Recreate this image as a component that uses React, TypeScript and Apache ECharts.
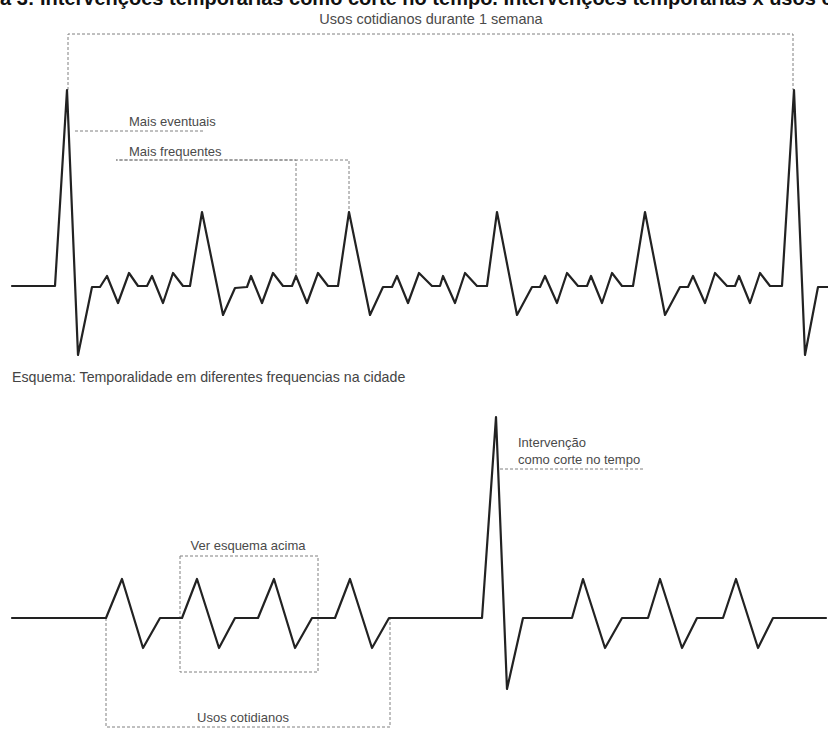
import React, { useEffect, useRef } from "react";
import * as echarts from "echarts";

// Top wave: [time, amplitude] (amplitude 0 = baseline)
const topWave: [number, number][] = [
  [12, 0], [55, 0], [67, 196], [78, -69], [92, -1], [100, -1], [107, 10], [118, -17], [129, 13], [138, 0],
  [147, 0], [152, 10], [163, -17], [173, 13], [183, 0], [190, 0], [202, 74], [223, -29], [235, -2], [247, -1],
  [251, 10], [262, -17], [273, 13], [283, 0], [292, 0], [296, 10], [307, -17], [318, 13], [328, 0], [338, 0],
  [349, 74], [370, -29], [383, -1], [392, -1], [397, 10], [408, -17], [419, 13], [432, 0], [440, 0], [443, 10],
  [455, -17], [465, 13], [477, 0], [487, 0], [497, 74], [517, -29], [532, -1], [540, -1], [545, 10], [557, -17],
  [567, 13], [578, 0], [587, 0], [591, 10], [602, -17], [612, 13], [622, 0], [633, 0], [645, 74], [665, -29],
  [680, -1], [688, -1], [693, 10], [705, -17], [715, 13], [727, 0], [735, 0], [739, 10], [750, -17], [760, 13],
  [770, 0], [782, 0], [794, 196], [805, -69], [818, -1], [828, -1],
];

// Bottom wave
const bottomWave: [number, number][] = [
  [12, 0], [106, 0], [122, 39], [143, -30], [160, 0], [182, 0], [197, 39], [219, -30], [235, 0], [258, 0],
  [274, 39], [295, -30], [312, 0], [335, 0], [350, 39], [372, -30], [389, 0], [482, 0], [496, 201], [507, -71],
  [523, 0], [572, 0], [583, 39], [605, -30], [622, 0], [648, 0], [660, 39], [682, -30], [697, 0], [723, 0],
  [736, 39], [758, -30], [773, 0], [826, 0],
];

// Annotation guides (top)
const weekBracket: [number, number][] = [[68, 196], [68, 252], [793, 252], [793, 196]];
const eventuaisGuide: [number, number][] = [[75, 155], [205, 155]];
const frequentesGuide: [number, number][] = [[296, 10], [296, 126], [116, 126], [349, 126], [349, 74]];
// Annotation guides (bottom)
const intervencaoGuide: [number, number][] = [[500, 149], [645, 149]];
const verBox: [number, number][] = [[180, 62], [318, 62], [318, -54], [180, -54], [180, 62]];
const usosBracket: [number, number][] = [[106, 0], [106, -109], [390, -109], [390, 0]];

const captionText = "a 3: Intervenções temporárias como corte no tempo. Intervenções temporárias x usos c";
const weekLabel = "Usos cotidianos durante 1 semana";
const eventuaisLabel = "Mais eventuais";
const frequentesLabel = "Mais frequentes";
const schemaLabel = "Esquema: Temporalidade em diferentes frequencias na cidade";
const verLabel = "Ver esquema acima";
const usosLabel = "Usos cotidianos";
const intervLabel1 = "Intervenção";
const intervLabel2 = "como corte no tempo";

const W = 828;
const H = 729;
const TOP_BASE = 286;
const BOT_BASE = 618;

const FONT = "'Liberation Sans', Arial, sans-serif";

export default function App() {
  const ref = useRef<HTMLDivElement>(null);
  useEffect(() => {
    if (!ref.current) return;
    const chart = echarts.init(ref.current, undefined, { renderer: "svg" });
    const waveStyle = { color: "#222", width: 2.2, join: "round" as const, cap: "round" as const };
    const dashStyle = { color: "#808080", width: 1, type: [3, 2] as number[] };
    const mkLine = (data: [number, number][], idx: number, style: any, z = 2) => ({
      type: "line",
      xAxisIndex: idx,
      yAxisIndex: idx,
      data,
      showSymbol: false,
      symbol: "none",
      silent: true,
      lineStyle: style,
      z,
    });
    const label = (text: string, x: number, y: number, align: string, size = 13, color = "#4a4a4a", weight = "normal") => ({
      type: "text",
      x,
      y,
      silent: true,
      style: {
        text,
        fill: color,
        fontSize: size,
        fontFamily: FONT,
        fontWeight: weight,
        align,
        textAlign: align,
        verticalAlign: "middle",
        textVerticalAlign: "middle",
      },
    });
    chart.setOption({
      animation: false,
      backgroundColor: "#fff",
      grid: [
        { left: 0, top: 0, width: W, height: H },
        { left: 0, top: 0, width: W, height: H },
      ],
      xAxis: [
        { type: "value", gridIndex: 0, min: 0, max: W, show: false },
        { type: "value", gridIndex: 1, min: 0, max: W, show: false },
      ],
      yAxis: [
        { type: "value", gridIndex: 0, min: TOP_BASE - H, max: TOP_BASE, show: false },
        { type: "value", gridIndex: 1, min: BOT_BASE - H, max: BOT_BASE, show: false },
      ],
      series: [
        mkLine(weekBracket, 0, dashStyle, 1),
        mkLine(eventuaisGuide, 0, dashStyle, 1),
        mkLine(frequentesGuide, 0, dashStyle, 1),
        mkLine(intervencaoGuide, 1, dashStyle, 1),
        mkLine(verBox, 1, dashStyle, 1),
        mkLine(usosBracket, 1, dashStyle, 1),
        mkLine(topWave, 0, waveStyle),
        mkLine(bottomWave, 1, waveStyle),
      ],
      graphic: [
        {
          type: "text",
          x: 0,
          y: 8,
          silent: true,
          style: {
            text: captionText,
            fill: "#111",
            fontSize: 20,
            fontWeight: "bold",
            fontFamily: FONT,
            align: "left",
            textAlign: "left",
            verticalAlign: "bottom",
            textVerticalAlign: "bottom",
          },
        },
        label(weekLabel, 431, 19, "center", 14.5),
        label(eventuaisLabel, 129, 121, "left"),
        label(frequentesLabel, 129, 151, "left"),
        label(schemaLabel, 12, 377, "left", 14.2, "#444"),
        label(verLabel, 248, 545, "center"),
        label(usosLabel, 243, 717, "center"),
        label(intervLabel1, 518, 442, "left", 13),
        label(intervLabel2, 518, 459, "left", 13),
      ],
    });
    return () => chart.dispose();
  }, []);
  return (
    <div
      ref={ref}
      style={{ position: "fixed", left: 0, top: 0, width: W, height: H, background: "#fff" }}
    />
  );
}
